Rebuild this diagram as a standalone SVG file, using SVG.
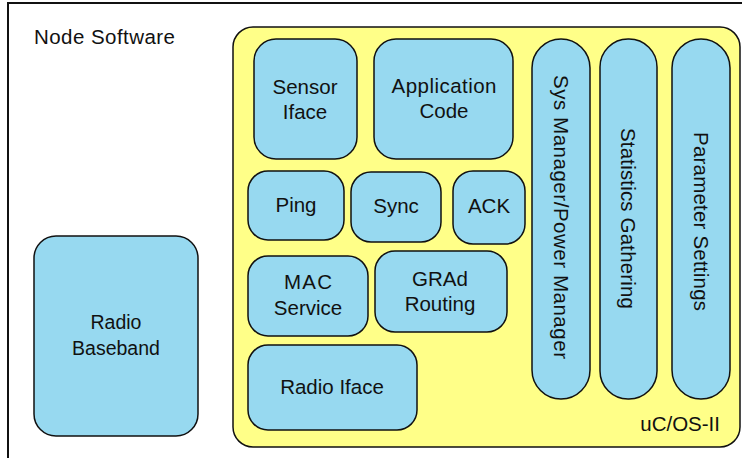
<svg xmlns="http://www.w3.org/2000/svg" width="742" height="458" viewBox="0 0 742 458">
<style>
.b{fill:#97d9f0;stroke:#111;stroke-width:1.5}
.t{font-family:"Liberation Sans",Arial,sans-serif;font-size:20.5px;fill:#111;text-anchor:middle}
</style>
<rect width="742" height="458" fill="#fff"/>
<g id="node-software">
<rect x="8" y="3" width="740" height="462" fill="#fff" stroke="#111" stroke-width="2"/>
<text class="t" x="34" y="44" style="text-anchor:start" textLength="141">Node Software</text>
</g>
<g id="ucos">
<rect x="233" y="27" width="507" height="420" rx="20" fill="#ffff88" stroke="#111" stroke-width="1.5"/>
<text class="t" x="720" y="431" style="text-anchor:end">uC/OS-II</text>
</g>
<g id="radio-baseband">
<rect class="b" x="34" y="236" width="164" height="200" rx="22"/>
<text class="t" x="116" y="329" style="font-size:19.5px">Radio</text>
<text class="t" x="116" y="355" style="font-size:19.5px">Baseband</text>
</g>
<g id="sensor-iface">
<rect class="b" x="254" y="39" width="103" height="120" rx="22"/>
<text class="t" x="305" y="94">Sensor</text>
<text class="t" x="305" y="119">Iface</text>
</g>
<g id="application-code">
<rect class="b" x="374" y="39" width="139" height="120" rx="22"/>
<text class="t" x="444" y="93" textLength="105">Application</text>
<text class="t" x="444" y="118">Code</text>
</g>
<g id="sys-manager">
<rect class="b" x="532" y="39" width="58" height="360" rx="29"/>
<text class="t" transform="translate(561,217) rotate(90)" dominant-baseline="central" textLength="284">Sys Manager/Power Manager</text>
</g>
<g id="statistics">
<rect class="b" x="600" y="39" width="57" height="360" rx="28"/>
<text class="t" transform="translate(628,218.5) rotate(90)" dominant-baseline="central" textLength="181">Statistics Gathering</text>
</g>
<g id="parameter">
<rect class="b" x="672" y="39" width="58" height="360" rx="29"/>
<text class="t" transform="translate(701,221.5) rotate(90)" dominant-baseline="central" textLength="179">Parameter Settings</text>
</g>
<g id="ping">
<rect class="b" x="248" y="171" width="96" height="69" rx="20"/>
<text class="t" x="296" y="212">Ping</text>
</g>
<g id="sync">
<rect class="b" x="351" y="172" width="90" height="70" rx="20"/>
<text class="t" x="396" y="213">Sync</text>
</g>
<g id="ack">
<rect class="b" x="453" y="171" width="72" height="73" rx="20"/>
<text class="t" x="489" y="213">ACK</text>
</g>
<g id="mac-service">
<rect class="b" x="248" y="256" width="120" height="80" rx="20"/>
<text class="t" x="308" y="289" textLength="48">MAC</text>
<text class="t" x="308" y="315">Service</text>
</g>
<g id="grad-routing">
<rect class="b" x="375" y="251" width="132" height="81" rx="20"/>
<text class="t" x="440" y="286">GRAd</text>
<text class="t" x="440" y="311">Routing</text>
</g>
<g id="radio-iface">
<rect class="b" x="248" y="345" width="169" height="85" rx="20"/>
<text class="t" x="332" y="394">Radio Iface</text>
</g>
<g id="connectors"/>
</svg>
